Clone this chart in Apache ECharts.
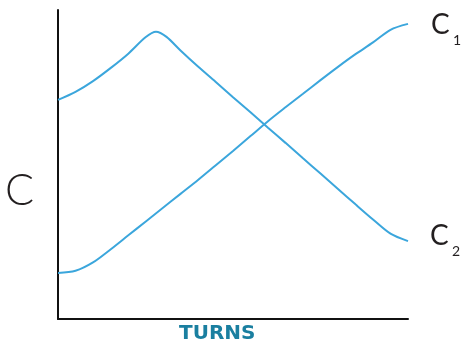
<!DOCTYPE html>
<html>
  <head>
    <meta charset="utf-8" />
    <title>C vs Turns</title>
    <script src="https://cdn.jsdelivr.net/npm/echarts@6/dist/echarts.min.js"></script>
    <style>
      body { margin: 0; background: #fff; }
      #chart { width: 464px; height: 348px; }
    </style>
  </head>
  <body>
    <div id="chart"></div>
    <script>
      // turns (0-100) and C (0-100)
      const c1Turns = [0, 5, 10, 15, 20, 25, 30, 35, 40, 45, 50, 55, 60, 65, 70, 75, 80, 85, 90, 95, 100];
      const c1Values = [14.9, 15.6, 18.3, 22.5, 27, 31.5, 36, 40.5, 45, 49.7, 54.4, 59.2, 64, 68.5, 72.9, 77.3, 81.6, 85.7, 89.5, 93.6, 95.5];
      const c2Turns = [0, 5, 10, 15, 20, 25, 28, 31, 35, 40, 45, 50, 55, 60, 65, 70, 75, 80, 85, 90, 95, 100];
      const c2Values = [70.9, 73.5, 77, 81.2, 85.8, 91.2, 93, 91.3, 86.9, 81.7, 76.8, 71.8, 66.9, 61.9, 57, 52, 47.1, 42.1, 37.1, 32.2, 27.6, 25.2];

      const lineColor = '#3ba6dc';
      const zip = (xs, ys) => xs.map((x, i) => [x, ys[i]]);

      const chart = echarts.init(document.getElementById('chart'));
      chart.setOption({
        animation: false,
        grid: { left: 58, right: 56, top: 10, bottom: 29 },
        xAxis: {
          type: 'value', min: 0, max: 100,
          axisLine: { show: true, lineStyle: { color: '#111', width: 2 } },
          axisTick: { show: false }, axisLabel: { show: false }, splitLine: { show: false }
        },
        yAxis: {
          type: 'value', min: 0, max: 100,
          axisLine: { show: true, lineStyle: { color: '#111', width: 2 } },
          axisTick: { show: false }, axisLabel: { show: false }, splitLine: { show: false }
        },
        series: [
          {
            name: 'C1', type: 'line', data: zip(c1Turns, c1Values),
            smooth: 0.3, showSymbol: false,
            lineStyle: { color: lineColor, width: 2 }
          },
          {
            name: 'C2', type: 'line', data: zip(c2Turns, c2Values),
            smooth: 0.3, showSymbol: false,
            lineStyle: { color: lineColor, width: 2 }
          }
        ],
        graphic: [
          { type: 'text', left: 5, top: 170,
            style: { text: 'C', font: '300 43px Lato', fill: '#231f20' } },
          { type: 'text', left: 431, top: 11,
            style: { text: 'C', font: '28px Lato', fill: '#231f20' } },
          { type: 'text', left: 453, top: 33,
            style: { text: '1', font: '14px Lato', fill: '#231f20' } },
          { type: 'text', left: 430, top: 222,
            style: { text: 'C', font: '28px Lato', fill: '#231f20' } },
          { type: 'text', left: 452, top: 244,
            style: { text: '2', font: '14px Lato', fill: '#231f20' } },
          { type: 'text', left: 179, top: 324,
            style: { text: 'TURNS', font: 'bold 20px "DejaVu Sans"', fill: '#1a7fa0' } }
        ]
      });
    </script>
  </body>
</html>
